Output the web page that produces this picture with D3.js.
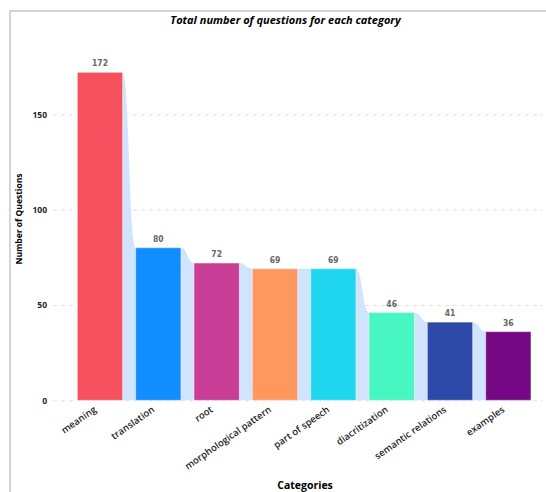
<!DOCTYPE html>
<html>
<head>
  <meta charset="utf-8" />
  <title>Total number of questions for each category</title>
  <script src="https://cdnjs.cloudflare.com/ajax/libs/d3/7.8.5/d3.min.js"></script>
  <style>
    body { margin: 0; background: #fff; }
    svg { display: block; }
  </style>
</head>
<body>
  <div id="chart"></div>

  <script>
    // data
    var categories = ["meaning", "translation", "root", "morphological pattern",
      "part of speech", "diacritization", "semantic relations", "examples"];
    var counts = [172, 80, 72, 69, 69, 46, 41, 36];
    var barColors = ["#f5515f", "#118dff", "#c83d95", "#ff985e",
      "#1fd6ee", "#48f6c2", "#2e4aa8", "#750985"];
    var yTicks = [0, 50, 100, 150];

    var width = 546, height = 492;

    var svg = d3.select("#chart")
      .append("svg")
      .attr("width", width)
      .attr("height", height);

    // panel frame (only top and left edges show)
    svg.append("rect")
      .attr("x", 10).attr("y", 11)
      .attr("width", 600).attr("height", 600)
      .attr("fill", "none")
      .attr("stroke", "#c6c6c6")
      .attr("stroke-width", 1.5);

    var x = d3.scaleBand()
      .domain(categories)
      .range([70.8, 537.5])
      .paddingInner(0.224)
      .paddingOuter(0.112);

    var y = d3.scaleLinear()
      .domain([0, 150])
      .range([400.3, 114.3]);

    // gridlines + y labels
    var yAxis = svg.append("g")
      .attr("transform", "translate(53,0)")
      .call(d3.axisLeft(y).tickValues(yTicks).tickSize(-(543 - 53)).tickPadding(6));
    yAxis.select(".domain").remove();
    yAxis.selectAll(".tick line")
      .attr("stroke", "#e1e1e1")
      .attr("stroke-dasharray", "4,4");
    yAxis.selectAll(".tick text")
      .attr("fill", "#252423")
      .attr("font-family", "'Open Sans', sans-serif")
      .attr("font-weight", 700)
      .attr("font-size", 8.5);

    // ribbon behind the bars
    var ribbonPts = [];
    categories.forEach(function(c, i) {
      ribbonPts.push([x(c), counts[i]]);
      ribbonPts.push([x(c) + x.bandwidth(), counts[i]]);
    });
    var ribbon = d3.area()
      .x(function(d) { return d[0]; })
      .y0(y(0))
      .y1(function(d) { return y(d[1]); })
      .curve(d3.curveBumpX);
    svg.append("path")
      .datum(ribbonPts)
      .attr("d", ribbon)
      .attr("fill", "#d0e5fd");

    // bars
    svg.selectAll(".bar")
      .data(counts)
      .enter().append("rect")
      .attr("class", "bar")
      .attr("x", function(d, i) { return x(categories[i]); })
      .attr("y", function(d) { return y(d); })
      .attr("width", x.bandwidth())
      .attr("height", function(d) { return y(0) - y(d); })
      .attr("fill", function(d, i) { return barColors[i]; })
      .attr("stroke", "rgba(255,255,255,0.45)")
      .attr("stroke-width", 1);

    // value labels
    svg.selectAll(".val")
      .data(counts)
      .enter().append("text")
      .attr("class", "val")
      .attr("x", function(d, i) { return x(categories[i]) + x.bandwidth() / 2; })
      .attr("y", function(d) { return y(d) - 6; })
      .attr("text-anchor", "middle")
      .attr("fill", "#666")
      .attr("font-family", "'DejaVu Sans Condensed', sans-serif")
      .attr("font-weight", 700)
      .attr("font-size", 8.5)
      .text(function(d) { return d; });

    // category labels
    svg.selectAll(".cat")
      .data(categories)
      .enter().append("text")
      .attr("class", "cat")
      .attr("transform", function(d) {
        return "translate(" + (x(d) + x.bandwidth() / 2 - 3) + ",411) rotate(-35)";
      })
      .attr("text-anchor", "end")
      .attr("fill", "#252423")
      .attr("font-family", "'Open Sans', sans-serif")
      .attr("font-weight", 600)
      .attr("font-size", 9.5)
      .text(function(d) { return d; });

    // titles
    svg.append("text")
      .attr("x", 285.5).attr("y", 24)
      .attr("text-anchor", "middle")
      .attr("font-family", "'Open Sans', sans-serif")
      .attr("font-weight", 700)
      .attr("font-style", "italic")
      .attr("font-size", 11)
      .attr("fill", "#000")
      .text("Total number of questions for each category");

    svg.append("text")
      .attr("x", 305).attr("y", 489)
      .attr("text-anchor", "middle")
      .attr("font-family", "'Open Sans', sans-serif")
      .attr("font-weight", 700)
      .attr("font-size", 10.5)
      .attr("fill", "#000")
      .text("Categories");

    svg.append("text")
      .attr("transform", "translate(22,219) rotate(-90)")
      .attr("text-anchor", "middle")
      .attr("font-family", "'Open Sans', sans-serif")
      .attr("font-weight", 700)
      .attr("font-size", 8.5)
      .attr("fill", "#000")
      .text("Number of Questions");
  </script>
</body>
</html>
